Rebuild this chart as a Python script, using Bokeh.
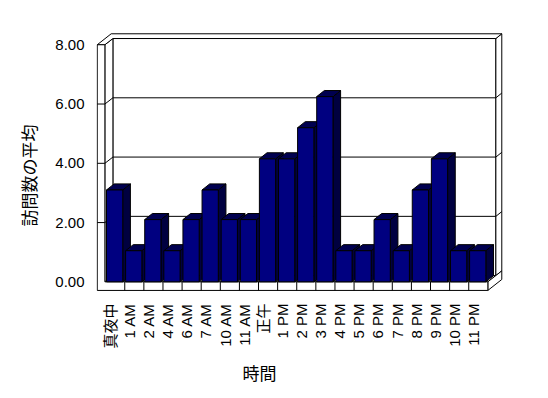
import math
from bokeh.plotting import figure
from bokeh.models import Range1d, FixedTicker, PrintfTickFormatter, Title
from bokeh.embed import file_html
from bokeh.resources import INLINE

# ---- data ----
hours = ["真夜中", "1 AM", "2 AM", "4 AM", "6 AM", "7 AM", "10 AM", "11 AM", "正午",
         "1 PM", "2 PM", "3 PM", "4 PM", "5 PM", "6 PM", "7 PM", "8 PM", "9 PM",
         "10 PM", "11 PM"]
avg_visits = [3.1, 1.05, 2.1, 1.05, 2.1, 3.1, 2.1, 2.1, 4.15,
              4.15, 5.2, 6.25, 1.05, 1.05, 2.1, 1.05, 3.1, 4.15,
              1.05, 1.05]
y_ticks = [0, 2, 4, 6, 8]
y_title = "訪問数の平均"
x_title = "時間"

# ---- layout (pixels) ----
W, H = 540, 390
FL, FR, FTOP, FB = 96, 503, 32, 293
CX0, CY0 = 114.7, 282.3
SX, SY = 19.11, 29.75

# ---- 3D box geometry (data units) ----
YMAX = y_ticks[-1]
XL, WT = -0.94, 0.40           # left wall outer x, wall thickness
XR = len(hours) - 0.5          # right end of floor
FT = 0.29                      # floor thickness
DX, DY = 0.42, 0.21            # depth to back wall inner face
DX2, DY2 = 0.73, 0.37          # depth to back wall outer face
BW, BOFF = 0.85, -0.03         # bar width, centre offset
BDX, BDY = 0.40, 0.205         # bar depth
LABEL_SHIFT = -0.25            # tick labels sit slightly left of bar centres

p = figure(width=W, height=H, output_backend="svg", toolbar_location=None,
           x_range=Range1d((FL - CX0) / SX, (FR - CX0) / SX),
           y_range=Range1d((CY0 - FB) / SY, (CY0 - FTOP) / SY),
           min_border_left=FL, min_border_right=W - FR,
           min_border_top=FTOP, min_border_bottom=H - FB)
p.outline_line_color = None
p.grid.visible = False
p.background_fill_color = "white"
p.border_fill_color = "white"

LW = 1
# back wall inner face
p.patch([XL + WT + DX, XR + DX, XR + DX, XL + WT + DX],
        [DY, DY, YMAX + DY, YMAX + DY], fill_color="white", line_color="black", line_width=LW)
# left wall inner face
p.patch([XL + WT, XL + WT, XL + WT + DX, XL + WT + DX],
        [0, YMAX, YMAX + DY, DY], fill_color="white", line_color="black", line_width=LW)
# floor top
p.patch([XL + WT, XR, XR + DX, XL + WT + DX],
        [0, 0, DY, DY], fill_color="white", line_color="black", line_width=LW)
# right end faces
p.patch([XR + DX, XR + DX, XR + DX2, XR + DX2],
        [DY, YMAX + DY, YMAX + DY2, DY2], fill_color="white", line_color="black", line_width=LW)
p.patch([XR, XR, XR + DX2, XR + DX2],
        [-FT, 0, DY2, -FT + DY2], fill_color="white", line_color="black", line_width=LW)
# top faces
p.patch([XL, XL + WT, XL + WT + DX, XR + DX, XR + DX2, XL + DX2],
        [YMAX, YMAX, YMAX + DY, YMAX + DY, YMAX + DY2, YMAX + DY2],
        fill_color="white", line_color="black", line_width=LW)
# front L shape (left wall + floor)
p.patch([XL, XR, XR, XL + WT, XL + WT, XL],
        [-FT, -FT, 0, 0, YMAX, YMAX], fill_color="white", line_color="black", line_width=LW)

# gridlines
gx0, gy0, gx1, gy1 = [], [], [], []
for v in y_ticks[1:-1]:
    for a, b, c, d in [(XL, v, XL + WT, v),
                       (XL + WT, v, XL + WT + DX, v + DY),
                       (XL + WT + DX, v + DY, XR + DX, v + DY),
                       (XR + DX, v + DY, XR + DX2, v + DY2)]:
        gx0.append(a); gy0.append(b); gx1.append(c); gy1.append(d)
# floor ticks between categories
for i in range(len(hours) - 1):
    gx0.append(i + 0.5); gy0.append(-FT); gx1.append(i + 0.5); gy1.append(0)
p.segment(gx0, gy0, gx1, gy1, line_color="black", line_width=LW)

# bars
side_xs, side_ys, top_xs, top_ys, fr_xs, fr_ys = [], [], [], [], [], []
for i, v in enumerate(avg_visits):
    a = i + BOFF - BW / 2
    b = i + BOFF + BW / 2
    side_xs.append([b, b, b + BDX, b + BDX]); side_ys.append([0, v, v + BDY, BDY])
    top_xs.append([a, b, b + BDX, a + BDX]); top_ys.append([v, v, v + BDY, v + BDY])
    fr_xs.append([a, b, b, a]); fr_ys.append([0, 0, v, v])
p.patches(side_xs, side_ys, fill_color="#000040", line_color="black", line_width=LW)
p.patches(top_xs, top_ys, fill_color="#000050", line_color="black", line_width=LW)
p.patches(fr_xs, fr_ys, fill_color="#000080", line_color="black", line_width=LW)

# axes
TICK_FONT = "Liberation Sans, Noto Sans CJK JP"
xt = [i + LABEL_SHIFT for i in range(len(hours))]
p.xaxis.ticker = FixedTicker(ticks=xt)
p.xaxis.major_label_overrides = {t: h for t, h in zip(xt, hours)}
p.xaxis.major_label_orientation = math.pi / 2
p.yaxis.ticker = FixedTicker(ticks=y_ticks)
p.yaxis.formatter = PrintfTickFormatter(format="%.2f")
for ax in (p.xaxis, p.yaxis):
    ax.axis_line_color = None
    ax.major_tick_line_color = None
    ax.minor_tick_line_color = None
    ax.major_tick_out = 0
    ax.major_tick_in = 0
    ax.major_label_text_font = TICK_FONT
    ax.major_label_text_font_size = "15px"
    ax.major_label_text_color = "black"
p.yaxis.major_label_standoff = 12
p.xaxis.major_label_standoff = 11

# axis titles
p.add_layout(Title(text=y_title, align="left", offset=66, standoff=24,
                   text_font="Noto Sans CJK JP", text_font_size="17px",
                   text_font_style="normal", text_color="black"), "left")
p.add_layout(Title(text=x_title, align="left", offset=146, standoff=12,
                   text_font="Noto Sans CJK JP", text_font_size="17px",
                   text_font_style="normal", text_color="black"), "below")

open("out.html", "w").write(file_html(p, INLINE))
